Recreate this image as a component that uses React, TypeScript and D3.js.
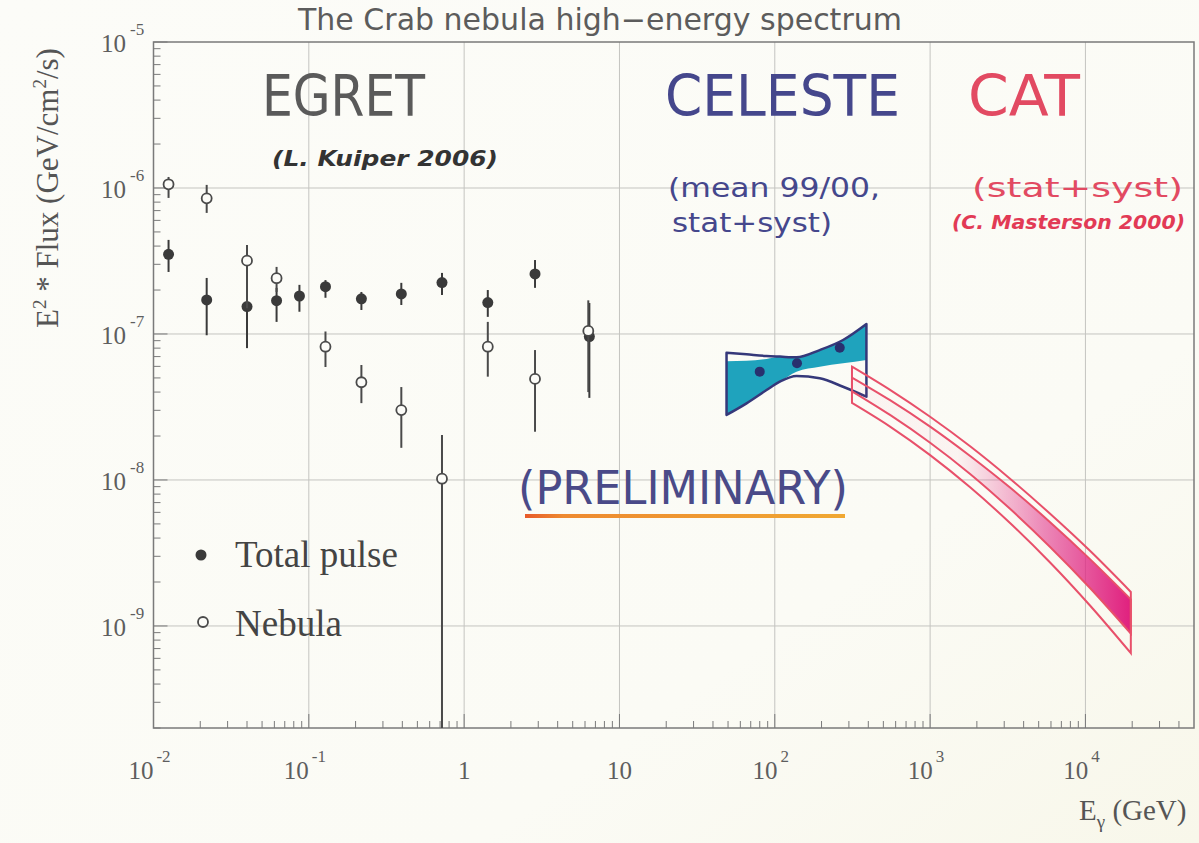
import React from "react";
import * as d3 from "d3";

// ---------- data ----------
const xTickValues = [1e-2, 1e-1, 1, 10, 100, 1e3, 1e4];
const xTickBase = ["10", "10", "1", "10", "10", "10", "10"];
const xTickExp = ["-2", "-1", "", "", "2", "3", "4"];

const yTickValues = [1e-5, 1e-6, 1e-7, 1e-8, 1e-9];
const yTickExp = ["-5", "-6", "-7", "-8", "-9"];

// EGRET total pulse (filled)
const pulseE = [0.0125, 0.022, 0.04, 0.062, 0.087, 0.128, 0.218, 0.394, 0.72, 1.42, 2.86, 6.4];
const pulseF = [3.51e-7, 1.71e-7, 1.54e-7, 1.69e-7, 1.82e-7, 2.11e-7, 1.74e-7, 1.88e-7, 2.25e-7, 1.64e-7, 2.58e-7, 0.96e-7];
const pulseHi = [4.41e-7, 2.42e-7, 2.0e-7, 2.07e-7, 2.17e-7, 2.34e-7, 1.94e-7, 2.24e-7, 2.62e-7, 2.0e-7, 3.21e-7, 1.63e-7];
const pulseLo = [2.66e-7, 0.98e-7, 0.8e-7, 1.21e-7, 1.42e-7, 1.77e-7, 1.46e-7, 1.58e-7, 1.85e-7, 1.31e-7, 2.07e-7, 0.365e-7];

// EGRET nebula (open)
const nebulaE = [0.0125, 0.022, 0.04, 0.062, 0.128, 0.218, 0.394, 0.72, 1.42, 2.86, 6.3];
const nebulaF = [1.06e-6, 8.49e-7, 3.18e-7, 2.41e-7, 8.18e-8, 4.67e-8, 3.01e-8, 1.02e-8, 8.18e-8, 4.92e-8, 1.05e-7];
const nebulaHi = [1.19e-6, 1.05e-6, 4.07e-7, 2.88e-7, 1.04e-7, 6.13e-8, 4.33e-8, 2.03e-8, 1.21e-7, 7.76e-8, 1.7e-7];
const nebulaLo = [0.855e-6, 6.75e-7, 1.5e-7, 1.94e-7, 5.94e-8, 3.36e-8, 1.66e-8, 1e-10, 5.1e-8, 2.14e-8, 0.4e-7];

// CELESTE bow-tie
const celesteE = [48.9, 65.8, 88.5, 107.7, 138, 194.7, 275, 389];
const celesteUpper = [7.45e-8, 7.26e-8, 7.07e-8, 7.0e-8, 6.92e-8, 7.76e-8, 9.09e-8, 1.17e-7];
const celesteLower = [2.79e-8, 3.35e-8, 4.13e-8, 4.71e-8, 5.15e-8, 4.97e-8, 4.35e-8, 3.72e-8];
const celesteFillUpper = [6.5e-8, 6.55e-8, 6.75e-8, 6.99e-8, 6.92e-8, 7.76e-8, 9.09e-8, 1.17e-7];
const celesteFillLower = [2.79e-8, 3.35e-8, 4.13e-8, 4.71e-8, 5.52e-8, 5.97e-8, 6.3e-8, 6.64e-8];
const celestePtE = [80, 139, 262];
const celestePtF = [5.52e-8, 6.3e-8, 8.05e-8];

// CAT band
const catE = [314, 552, 1000, 1810, 3270, 5900, 10700, 19600];
const catOuterUpper = [5.97e-8, 4.14e-8, 2.71e-8, 1.7e-8, 1.02e-8, 5.89e-9, 3.27e-9, 1.71e-9];
const catOuterLower = [3.37e-8, 2.32e-8, 1.48e-8, 8.91e-9, 5.07e-9, 2.73e-9, 1.38e-9, 6.51e-10];
const catInnerUpper = [5.03e-8, 3.52e-8, 2.32e-8, 1.46e-8, 8.87e-9, 5.16e-9, 2.87e-9, 1.52e-9];
const catInnerLower = [4.05e-8, 2.79e-8, 1.8e-8, 1.1e-8, 6.34e-9, 3.49e-9, 1.82e-9, 8.87e-10];

// ---------- layout ----------
const W = 1199;
const H = 843;
const X0 = 153.5;
const X1 = 1194;
const Y0 = 42;
const Y1 = 728;

const serif = "'Liberation Serif', 'DejaVu Serif', serif";
const sans = "'DejaVu Sans', 'Open Sans', sans-serif";

export default function App() {
  const x = d3.scaleLog().domain([1e-2, 5e4]).range([X0, X1]);
  const y = d3.scaleLog().domain([2e-10, 1e-5]).range([Y1, Y0]).clamp(true);

  const xMinor: number[] = [];
  for (let k = -2; k <= 4; k++) for (let m = 2; m <= 9; m++) {
    const v = m * Math.pow(10, k);
    if (v < 5e4) xMinor.push(v);
  }
  const yMinor: number[] = [];
  for (let k = -10; k <= -6; k++) for (let m = 2; m <= 9; m++) {
    const v = m * Math.pow(10, k);
    if (v >= 2e-10 && v < 1e-5) yMinor.push(v);
  }

  const band = (E: number[], lo: number[], hi: number[], curve: d3.CurveFactory) =>
    d3.area<number>()
      .x((_, i) => x(E[i]))
      .y0((_, i) => y(lo[i]))
      .y1((_, i) => y(hi[i]))
      .curve(curve)(E) as string;

  const gridColor = "#c4c4c0";
  const axisColor = "#7a7a7a";
  const markColor = "#3a3a3a";
  const catRed = "#e8506a";

  return (
    <svg width={W} height={H} style={{ position: "absolute", left: 0, top: 0 }}>
      <defs>
        <linearGradient id="bg" x1="0" y1="0" x2="1" y2="1">
          <stop offset="0" stopColor="#fcfcf8" />
          <stop offset="0.7" stopColor="#fbfbf5" />
          <stop offset="1" stopColor="#f8f7ea" />
        </linearGradient>
        <linearGradient id="catFill" gradientUnits="userSpaceOnUse" x1={x(1500)} y1="0" x2={x(19600)} y2="0">
          <stop offset="0" stopColor="#e8408a" stopOpacity="0.04" />
          <stop offset="0.5" stopColor="#e02a86" stopOpacity="0.55" />
          <stop offset="1" stopColor="#e0207e" stopOpacity="1" />
        </linearGradient>
        <linearGradient id="prelim" x1="0" y1="0" x2="1" y2="0">
          <stop offset="0" stopColor="#e85a2a" />
          <stop offset="0.12" stopColor="#ee8a30" />
          <stop offset="1" stopColor="#f0a832" />
        </linearGradient>
      </defs>
      <rect x={0} y={0} width={W} height={H} fill="url(#bg)" />

      {/* title */}
      <text x={600} y={30} textAnchor="middle" fontFamily={sans} fontSize={30} fill="#5c5c5c">
        The Crab nebula high−energy spectrum
      </text>

      {/* grid */}
      {xTickValues.slice(1).map((v) => (
        <line key={"gx" + v} x1={x(v)} x2={x(v)} y1={Y0} y2={Y1} stroke={gridColor} strokeWidth={1} />
      ))}
      {yTickValues.slice(1).map((v) => (
        <line key={"gy" + v} x1={X0} x2={X1} y1={y(v)} y2={y(v)} stroke={gridColor} strokeWidth={1} />
      ))}

      {/* frame */}
      <rect x={X0} y={Y0} width={X1 - X0} height={Y1 - Y0} fill="none" stroke={axisColor} strokeWidth={1.5} />

      {/* ticks */}
      {xTickValues.map((v) => (
        <line key={"tx" + v} x1={x(v)} x2={x(v)} y1={Y1} y2={Y1 - 14} stroke={axisColor} strokeWidth={1} />
      ))}
      {xMinor.map((v) => (
        <line key={"mx" + v} x1={x(v)} x2={x(v)} y1={Y1} y2={Y1 - 7} stroke={axisColor} strokeWidth={1} />
      ))}
      {yTickValues.map((v) => (
        <line key={"ty" + v} x1={X0} x2={X0 + 14} y1={y(v)} y2={y(v)} stroke={axisColor} strokeWidth={1} />
      ))}
      {yMinor.map((v) => (
        <line key={"my" + v} x1={X0} x2={X0 + 7} y1={y(v)} y2={y(v)} stroke={axisColor} strokeWidth={1} />
      ))}

      {/* x tick labels */}
      {xTickValues.map((v, i) => (
        <text key={"lx" + v} x={x(v) - (xTickExp[i] ? 4 : 0)} y={779} textAnchor="middle" fontFamily={serif} fontSize={25} fill="#5e5e5e">
          {xTickBase[i]}
          {xTickExp[i] ? (
            <tspan dx={3} dy={-17} fontSize={17}>{xTickExp[i]}</tspan>
          ) : null}
        </text>
      ))}
      {/* y tick labels */}
      {yTickValues.map((v, i) => (
        <text key={"ly" + v} x={101} y={y(v) + 10} fontFamily={serif} fontSize={25} fill="#5e5e5e">
          10
          <tspan dx={4} dy={-17} fontSize={17}>{yTickExp[i]}</tspan>
        </text>
      ))}

      {/* axis titles */}
      <text transform={`translate(58,${188}) rotate(-90)`} textAnchor="middle" fontFamily={serif} fontSize={31} fill="#555">
        E<tspan dy={-12} fontSize={19}>2</tspan>
        <tspan dy={12}> * Flux (GeV/cm</tspan>
        <tspan dy={-12} fontSize={19}>2</tspan>
        <tspan dy={12}>/s)</tspan>
      </text>
      <text x={1079} y={820} fontFamily={serif} fontSize={29} fill="#555">
        E<tspan dy={8} fontSize={19}>γ</tspan>
        <tspan dy={-8}> (GeV)</tspan>
      </text>

      {/* CELESTE bow-tie */}
      <path d={band(celesteE, celesteFillLower, celesteFillUpper, d3.curveMonotoneX)} fill="#1fa3bd" stroke="none" />
      <path d={band(celesteE, celesteLower, celesteUpper, d3.curveMonotoneX)} fill="none" stroke="#35387a" strokeWidth={2.5} strokeLinejoin="round" />
      {celestePtE.map((e, i) => (
        <circle key={"cp" + i} cx={x(e)} cy={y(celestePtF[i])} r={5} fill="#28306e" />
      ))}

      {/* CAT band */}
      <path d={band(catE, catInnerLower, catInnerUpper, d3.curveCatmullRom)} fill="url(#catFill)" stroke={catRed} strokeWidth={2} />
      <path d={band(catE, catOuterLower, catOuterUpper, d3.curveCatmullRom)} fill="none" stroke={catRed} strokeWidth={2} />

      {/* EGRET total pulse */}
      {pulseE.map((e, i) => (
        <g key={"p" + i}>
          <line x1={x(e)} x2={x(e)} y1={y(pulseLo[i])} y2={y(pulseHi[i])} stroke={markColor} strokeWidth={2} />
          <circle cx={x(e)} cy={y(pulseF[i])} r={5.5} fill={markColor} />
        </g>
      ))}
      {/* EGRET nebula */}
      {nebulaE.map((e, i) => (
        <g key={"n" + i}>
          <line x1={x(e)} x2={x(e)} y1={y(nebulaLo[i])} y2={y(nebulaHi[i])} stroke="#4a4a4a" strokeWidth={2} />
          <circle cx={x(e)} cy={y(nebulaF[i])} r={5} fill="#fcfcf8" stroke="#4a4a4a" strokeWidth={1.8} />
        </g>
      ))}

      {/* instrument labels */}
      <text x={262} y={116} fontFamily={sans} fontSize={57} textLength={163} lengthAdjust="spacingAndGlyphs" fill="#5a5a5a">EGRET</text>
      <text x={272} y={166} fontFamily={sans} fontSize={21} fontStyle="italic" fontWeight="bold" textLength={226} lengthAdjust="spacingAndGlyphs" fill="#333">(L. Kuiper 2006)</text>

      <text x={665} y={116} fontFamily={sans} fontSize={57} textLength={235} lengthAdjust="spacingAndGlyphs" fill="#45478c">CELESTE</text>
      <text x={668} y={197} fontFamily={sans} fontSize={26} textLength={212} lengthAdjust="spacingAndGlyphs" fill="#45478c">(mean 99/00,</text>
      <text x={672} y={232} fontFamily={sans} fontSize={26} textLength={160} lengthAdjust="spacingAndGlyphs" fill="#45478c">stat+syst)</text>

      <text x={968} y={116} fontFamily={sans} fontSize={57} textLength={112} lengthAdjust="spacingAndGlyphs" fill="#e24a62">CAT</text>
      <text x={972} y={197} fontFamily={sans} fontSize={26} textLength={211} lengthAdjust="spacingAndGlyphs" fill="#e24a62">(stat+syst)</text>
      <text x={952} y={229} fontFamily={sans} fontSize={19} fontStyle="italic" fontWeight="bold" textLength={233} lengthAdjust="spacingAndGlyphs" fill="#e23a55">(C. Masterson 2000)</text>

      {/* preliminary */}
      <text x={518} y={504} fontFamily={sans} fontSize={46} textLength={330} lengthAdjust="spacingAndGlyphs" fill="#4a4a88">(PRELIMINARY)</text>
      <rect x={525} y={514} width={320} height={4} fill="url(#prelim)" />

      {/* legend */}
      <circle cx={201} cy={555} r={5.5} fill={markColor} />
      <text x={235} y={567} fontFamily={serif} fontSize={37} fill="#444">Total pulse</text>
      <circle cx={203} cy={622} r={5} fill="#fcfcf8" stroke="#4a4a4a" strokeWidth={1.8} />
      <text x={235} y={636} fontFamily={serif} fontSize={37} fill="#444">Nebula</text>
    </svg>
  );
}
